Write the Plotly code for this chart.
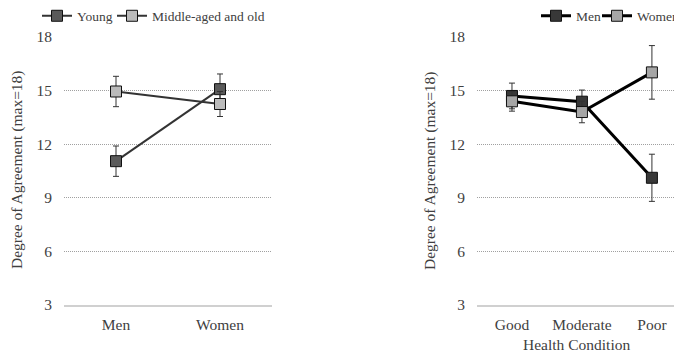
import plotly.graph_objects as go

# The page body keeps an 8px default margin: figure fills the rest of the window
OFF = 8
W, H = 682 - OFF, 356 - OFF

def px(x):
    return (x - OFF) / W

def py(y):
    return 1 - (y - OFF) / H

# Left panel data
gender_cats = ["Men", "Women"]
young_vals = [11.05, 15.08]
young_err = [0.85, 0.85]
mid_vals = [14.95, 14.25]
mid_err = [0.85, 0.7]

# Right panel data
health_cats = ["Good", "Moderate", "Poor"]
men_vals = [14.7, 14.38, 10.12]
men_err = [0.72, 0.65, 1.32]
women_vals = [14.4, 13.8, 16.02]
women_err = [0.55, 0.6, 1.5]

y_ticks = [3, 6, 9, 12, 15, 18]

FONT = "Liberation Serif, Times New Roman, serif"
TXT = "#404040"

fig = go.Figure()

def err(a):
    return dict(type="data", array=a, visible=True, color="#333333", thickness=1, width=3)

fig.add_trace(go.Scatter(x=gender_cats, y=young_vals, name="Young", mode="lines+markers",
                         line=dict(color="#333333", width=2),
                         marker=dict(symbol="square", size=11, color="#5a5a5a",
                                     line=dict(color="#111111", width=1)),
                         error_y=err(young_err), xaxis="x", yaxis="y", legend="legend"))
fig.add_trace(go.Scatter(x=gender_cats, y=mid_vals, name="Middle-aged and old", mode="lines+markers",
                         line=dict(color="#333333", width=2),
                         marker=dict(symbol="square", size=11, color="#bbbbbb",
                                     line=dict(color="#111111", width=1)),
                         error_y=err(mid_err), xaxis="x", yaxis="y", legend="legend2"))

fig.add_trace(go.Scatter(x=health_cats, y=men_vals, name="Men", mode="lines+markers",
                         line=dict(color="#000000", width=3),
                         marker=dict(symbol="square", size=11, color="#383838",
                                     line=dict(color="#111111", width=1)),
                         error_y=err(men_err), xaxis="x2", yaxis="y2", legend="legend3"))
fig.add_trace(go.Scatter(x=health_cats, y=women_vals, name="Women", mode="lines+markers",
                         line=dict(color="#000000", width=3),
                         marker=dict(symbol="square", size=11, color="#a6a6a6",
                                     line=dict(color="#111111", width=1)),
                         error_y=err(women_err), xaxis="x2", yaxis="y2", legend="legend4"))

ydom = [py(305), py(37)]

def yax(anchor):
    return dict(domain=ydom, range=[3, 18], tickvals=y_ticks, showgrid=True,
                gridcolor="#a0a0a0", griddash="1px,1px", gridwidth=1, zeroline=False,
                showline=False, ticks="outside", ticklen=8, tickcolor="rgba(0,0,0,0)",
                tickfont=dict(family=FONT, size=15.5, color=TXT), anchor=anchor,
                automargin=False, fixedrange=True)

def xax(dom, rng, anchor):
    return dict(domain=dom, range=rng, type="category", showgrid=False, zeroline=False,
                showline=True, linecolor="#d0d0d0", linewidth=1.5,
                ticks="outside", ticklen=5, tickcolor="rgba(0,0,0,0)",
                tickfont=dict(family=FONT, size=15.5, color=TXT), anchor=anchor,
                automargin=False, fixedrange=True)

legfont = dict(family=FONT, size=13.5, color=TXT)

def leg(x0):
    return dict(orientation="h", x=px(x0), y=py(16), xanchor="left", yanchor="middle",
                font=legfont, bgcolor="rgba(0,0,0,0)", itemwidth=30)

fig.update_layout(
    width=W, height=H,
    margin=dict(l=0, r=0, t=0, b=0, autoexpand=False),
    paper_bgcolor="white", plot_bgcolor="white",
    xaxis=xax([px(64), px(272)], [-0.5, 1.5], "y"),
    yaxis=yax("x"),
    xaxis2=xax([px(477), 1.0], [-0.5, 2.43], "y2"),
    yaxis2=yax("x2"),
    legend=leg(37),
    legend2=leg(112),
    legend3=leg(536),
    legend4=leg(597),
    showlegend=True,
    annotations=[
        dict(text="Degree of Agreement (max=18)", xref="paper", yref="paper",
             x=px(17), y=py(170), textangle=-90, showarrow=False,
             font=dict(family=FONT, size=15.5, color=TXT), xanchor="center", yanchor="middle"),
        dict(text="Degree of Agreement (max=18)", xref="paper", yref="paper",
             x=px(430), y=py(171), textangle=-90, showarrow=False,
             font=dict(family=FONT, size=15.5, color=TXT), xanchor="center", yanchor="middle"),
        dict(text="Health Condition", xref="paper", yref="paper",
             x=px(576), y=py(344), showarrow=False,
             font=dict(family=FONT, size=15.5, color=TXT), xanchor="center", yanchor="middle"),
    ],
)

fig.write_html("out.html", config={"displayModeBar": False})
